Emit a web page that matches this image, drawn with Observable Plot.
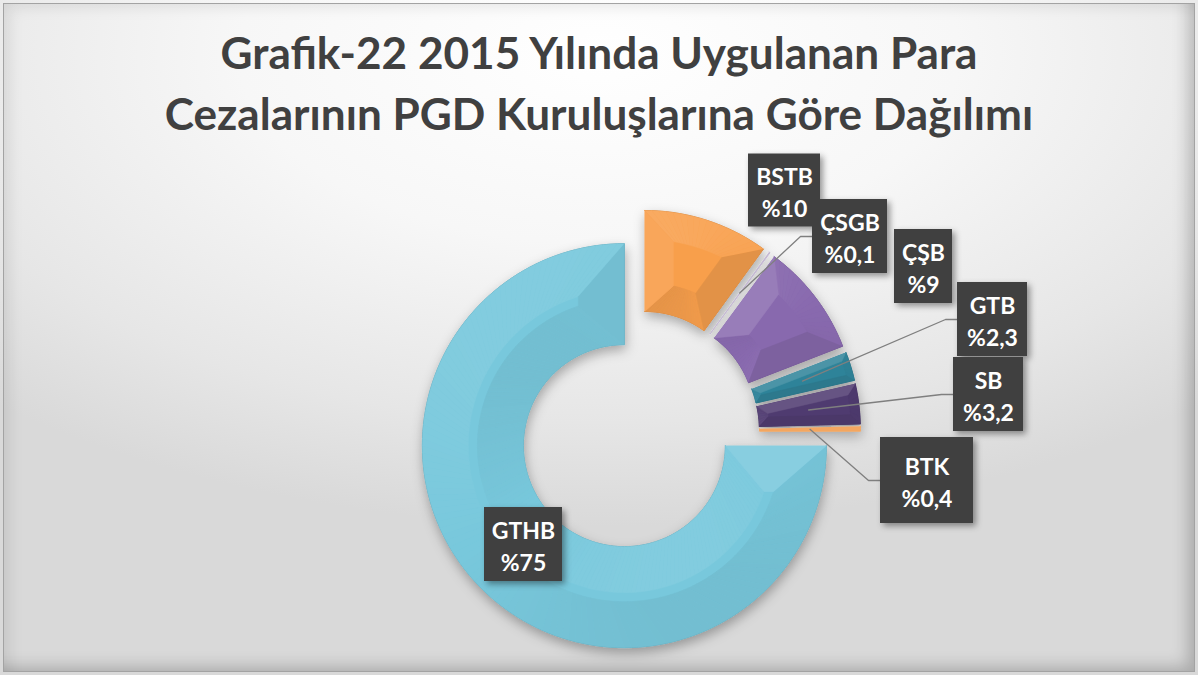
<!DOCTYPE html>
<html>
<head>
<meta charset="utf-8">
<script src="https://cdn.jsdelivr.net/npm/d3@7"></script>
<script src="https://cdn.jsdelivr.net/npm/@observablehq/plot@0.6"></script>
<style>
  html, body { margin: 0; padding: 0; background: #ffffff; }
  #frame {
    position: relative; width: 1198px; height: 675px; overflow: hidden;
    background: radial-gradient(ellipse 75% 70% at 50% 8%, #ffffff 0%, #f7f7f7 40%, #e6e6e6 78%, #d9d9d9 100%);
  }
  #bevel {
    position: absolute; left: 3px; top: 3px; right: 3px; bottom: 3px;
    border: 1.5px solid #a3a3a3; pointer-events: none; z-index: 5;
    box-shadow: inset 16px 14px 16px -12px rgba(0,0,0,0.10), inset -16px -14px 16px -10px rgba(0,0,0,0.22);
  }
  #title { position: absolute; left: 0; top: 0; width: 1198px; height: 150px; }
  #title div {
    position: absolute; left: 0; width: 1198px; text-align: center; white-space: nowrap;
    font-family: Lato, "Open Sans", sans-serif; font-weight: bold; color: #404040;
  }
  #chart { position: absolute; left: 0; top: 150px; }
</style>
</head>
<body>
<div id="frame">
  <div id="title"></div>
  <div id="chart"></div>
  <div id="bevel"></div>
</div>
<script>
// ---------- data ----------
const names = ["BSTB", "ÇSGB", "ÇŞB", "GTB", "SB", "BTK", "GTHB"];
const values = [10, 0.1, 9, 2.3, 3.2, 0.4, 75];
const titleLines = ["Grafik-22 2015 Yılında Uygulanan Para", "Cezalarının PGD Kuruluşlarına Göre Dağılımı"];

// ---------- styles ----------
const colors = ["#f89f4c", "#c4b8d3", "#8869ae", "#2f8399", "#4f3a70", "#f4a660", "#78c8dc"];

// ---------- layout ----------
const W = 1198, H = 675, TITLE_H = 150, SVG_H = H - TITLE_H;
const CX = 638, CY = 431 - TITLE_H;     // pie centre inside the svg (px)
const RPX = 202;                          // outer radius (px)
const HOLE = 0.5;                         // inner / outer radius
const EXPLODE = 20 / RPX;                 // explosion distance (radius units)
const BEVEL = 46 / RPX;                   // maximum bevel width (radius units)
// label boxes: centre offset from pie centre (px), box size (px), whether a leader line is drawn
const labelLayout = [
  {dx: 146,   dy: -241, w: 72, h: 73, leader: false},
  {dx: 211.5, dy: -195, w: 75, h: 74, leader: true},
  {dx: 285,   dy: -165, w: 58, h: 74, leader: false},
  {dx: 354,   dy: -112, w: 70, h: 74, leader: true},
  {dx: 350,   dy: -37,  w: 70, h: 74, leader: true},
  {dx: 288.5, dy: 49,   w: 93, h: 86, leader: true},
  {dx: -115,  dy: 113,  w: 78, h: 74, leader: false}
];

// ---------- title ----------
(function () {
  const c = document.createElement("canvas").getContext("2d");
  c.font = "bold 100px Lato";
  const w1 = c.measureText(titleLines[0]).width, w2 = c.measureText(titleLines[1]).width;
  const F = ((756 / w1) + (872 / w2)) / 2 * 100;
  const baselines = [70, 131];
  const t = document.getElementById("title");
  titleLines.forEach((s, i) => {
    const d = document.createElement("div");
    d.textContent = s;
    d.style.fontSize = F + "px";
    d.style.lineHeight = (1.2 * F) + "px";
    d.style.top = (baselines[i] - 0.987 * F) + "px";
    t.appendChild(d);
  });
})();

// ---------- geometry ----------
const arcs = d3.pie().sort(null).value(d => d)(values);
const S = Math.sin, C = Math.cos;
const P = (r, a) => [r * S(a), r * C(a)];
const Lx = -0.55, Ly = 0.835;
function shade(base, nx, ny, k) {
  const s = nx * Lx + ny * Ly;
  return s > 0 ? d3.interpolateRgb(base, "#ffffff")(0.14 * k * s) : d3.interpolateRgb(base, "#202020")(-0.11 * k * s);
}
const basePolys = [], facets = [];
arcs.forEach((arc, i) => {
  const a0 = arc.startAngle, a1 = arc.endAngle, m = (a0 + a1) / 2, span = a1 - a0;
  const ox = EXPLODE * S(m), oy = EXPLODE * C(m);
  const R = 1, r = HOLE;
  const n = Math.max(2, Math.ceil(span / (2 * Math.PI / 180)));
  const add = (arr, id, poly, color, line) => poly.forEach(([x, y]) => arr.push({id, x: x + ox, y: y + oy, color, line}));
  const arcPts = (b0, b1, rr) => d3.range(n + 1).map(k => P(rr, b0 + (b1 - b0) * k / n));
  const thin = span * r * RPX < 6;
  add(basePolys, "s" + i, [...arcPts(a0, a1, R), ...arcPts(a1, a0, r)], colors[i],
      thin ? colors[i] : d3.color(colors[i]).darker(0.6).formatHex());
  const w = Math.min(BEVEL, 0.92 * r * S(Math.min(span, Math.PI) / 2), 0.46 * (R - r));
  if (w * RPX < 2.5) return;
  const kk = span > Math.PI ? 0.55 : 1;   // softer shading along the long ring
  const dO = Math.asin(w / (R - w)), dI = Math.asin(w / (r + w));
  const b0o = a0 + dO, b1o = a1 - dO, b0i = a0 + dI, b1i = a1 - dI;
  for (let k = 0; k < n; k++) {
    const t0 = k / n, t1 = (k + 1) / n, am = a0 + span * (t0 + t1) / 2;
    add(facets, `o${i}_${k}`, [P(R, a0 + span * t0), P(R, a0 + span * t1), P(R - w, b0o + (b1o - b0o) * t1), P(R - w, b0o + (b1o - b0o) * t0)], shade(colors[i], S(am), C(am), kk));
    add(facets, `i${i}_${k}`, [P(r, a0 + span * t0), P(r, a0 + span * t1), P(r + w, b0i + (b1i - b0i) * t1), P(r + w, b0i + (b1i - b0i) * t0)], shade(colors[i], -S(am), -C(am), kk));
  }
  add(facets, `a${i}`, [P(R, a0), P(R - w, b0o), P(r + w, b0i), P(r, a0)], shade(colors[i], -C(a0), S(a0), 1));
  add(facets, `b${i}`, [P(R, a1), P(r, a1), P(r + w, b1i), P(R - w, b1o)], shade(colors[i], C(a1), -S(a1), 1));
});

// ---------- labels ----------
const fmt = v => "%" + String(v).replace(".", ",");
const labels = names.map((nm, i) => {
  const L = labelLayout[i];
  const cx = L.dx / RPX, cy = -L.dy / RPX, hw = L.w / 2 / RPX, hh = L.h / 2 / RPX;
  return {name: nm, text: nm + "\n" + fmt(values[i]), x: cx, y: cy, x1: cx - hw, x2: cx + hw, y1: cy - hh, y2: cy + hh};
});
const leaders = [];
arcs.forEach((arc, i) => {
  if (!labelLayout[i].leader) return;
  const m = (arc.startAngle + arc.endAngle) / 2;
  const lb = labels[i];
  const ex = EXPLODE * S(m), ey = EXPLODE * C(m);
  const [ax, ay] = P((1 + HOLE) / 2, m);
  leaders.push({id: i, x: ax + ex, y: ay + ey});
  leaders.push({id: i, x: lb.x1 - 12 / RPX, y: lb.y});
  leaders.push({id: i, x: lb.x1, y: lb.y});
});

// ---------- plot ----------
const plot = Plot.plot({
  width: W, height: SVG_H, margin: 0,
  style: "background: transparent; overflow: visible;",
  x: {domain: [-CX / RPX, (W - CX) / RPX], axis: null},
  y: {domain: [-(SVG_H - CY) / RPX, CY / RPX], axis: null},
  color: {type: "identity"},
  marks: [
    Plot.line(basePolys, {x: "x", y: "y", z: "id", fill: "color", stroke: "line", strokeWidth: 0.9}),
    Plot.line(facets, {x: "x", y: "y", z: "id", fill: "color", stroke: "color", strokeWidth: 0.5}),
    Plot.line(leaders, {x: "x", y: "y", z: "id", stroke: "#7f7f7f", strokeWidth: 1.3}),
    Plot.rect(labels, {x1: "x1", x2: "x2", y1: "y1", y2: "y2", fill: "#404040"}),
    Plot.text(labels, {x: "x", y: "y", text: "text", fill: "#ffffff", fontSize: 23, fontWeight: "bold", fontFamily: "Lato, 'Open Sans', sans-serif", lineHeight: 1.38})
  ]
});

const svg = d3.select(plot);
const defs = svg.insert("defs", ":first-child");
const f1 = defs.append("filter").attr("id", "shSlice").attr("x", "-30%").attr("y", "-30%").attr("width", "160%").attr("height", "160%");
f1.append("feDropShadow").attr("dx", 1).attr("dy", 5).attr("stdDeviation", 6).attr("flood-color", "#000").attr("flood-opacity", 0.30);
const f2 = defs.append("filter").attr("id", "shBox").attr("x", "-30%").attr("y", "-30%").attr("width", "160%").attr("height", "160%");
f2.append("feDropShadow").attr("dx", 3).attr("dy", 3).attr("stdDeviation", 3).attr("flood-color", "#000").attr("flood-opacity", 0.40);
const lineGroups = plot.querySelectorAll('g[aria-label="line"]');
if (lineGroups[0]) lineGroups[0].setAttribute("filter", "url(#shSlice)");
const rectGroup = plot.querySelector('g[aria-label="rect"]');
if (rectGroup) rectGroup.setAttribute("filter", "url(#shBox)");

document.getElementById("chart").appendChild(plot);
</script>
</body>
</html>
